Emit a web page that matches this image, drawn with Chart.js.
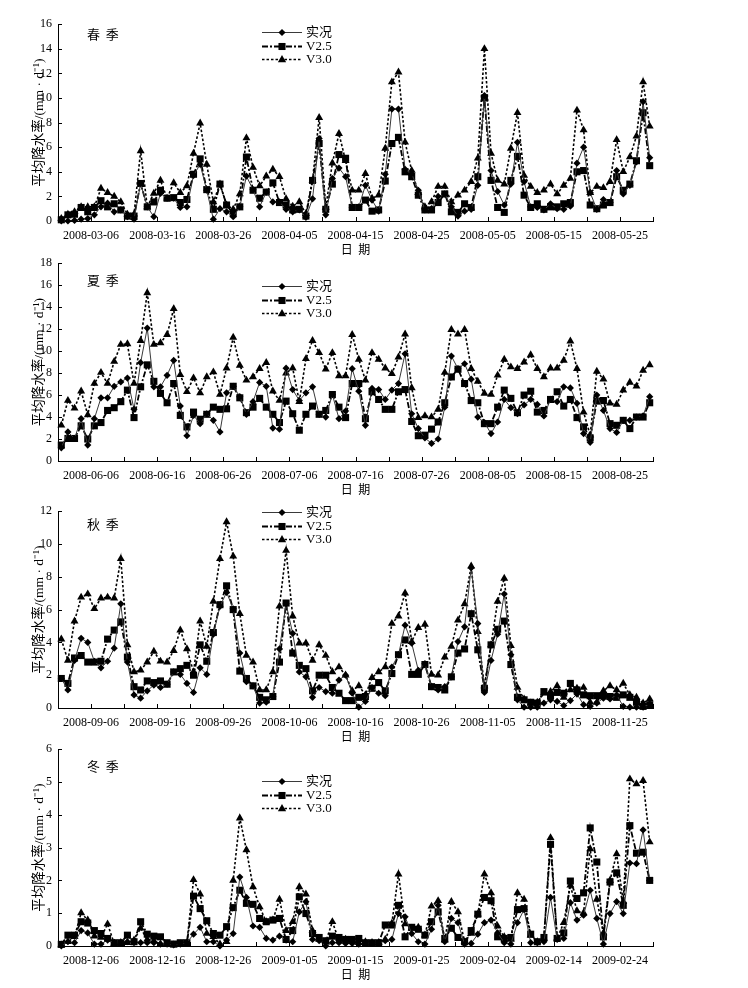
<!DOCTYPE html>
<html>
<head>
<meta charset="utf-8">
<script src="https://cdn.jsdelivr.net/npm/chart.js@4.4.1/dist/chart.umd.min.js"></script>
<style>
  html, body { margin: 0; padding: 0; background: #fff; }
  #wrap { position: relative; width: 748px; height: 988px; }
  #wrap canvas { position: absolute; left: 0; }
</style>
</head>
<body>
<div id="wrap"></div>
<script>
const seriesNames = ['实况', 'V2.5', 'V3.0']

// 春季 2008-03 ~ 2008-05
const springTicks = ['2008-03-06', '2008-03-16', '2008-03-26', '2008-04-05', '2008-04-15', '2008-04-25', '2008-05-05', '2008-05-15', '2008-05-25']
const springObs = [0, 0, 0.05, 0.15, 0.2, 0.5, 1.15, 1.45, 0.75, 0.9, 0.35, 0.15, 3.05, 1.15, 0.35, 2.25, 1.85, 1.85, 1.1, 1.15, 3.7, 4.6, 2.5, 0.15, 1.0, 0.75, 0.35, 1.15, 3.65, 2.55, 1.15, 2.35, 1.55, 1.55, 0.95, 0.75, 0.9, 0.3, 1.8, 6.7, 0.5, 3.45, 4.3, 3.6, 1.1, 1.15, 2.9, 1.7, 0.8, 3.8, 9.1, 9.1, 4.2, 3.85, 2.5, 0.9, 1.0, 2.0, 2.2, 1.15, 0.4, 0.8, 0.95, 2.9, 10.2, 4.1, 2.4, 1.3, 3.0, 6.4, 3.2, 1.15, 1.1, 0.9, 1.4, 1.0, 0.95, 1.2, 4.7, 6.0, 2.3, 0.95, 1.75, 1.5, 4.1, 2.2, 2.9, 4.8, 9.7, 5.15]
const springV25 = [0.1, 0.5, 0.55, 1.1, 0.75, 1.1, 1.65, 1.15, 1.4, 0.9, 0.4, 0.4, 3.05, 1.15, 1.55, 2.5, 1.85, 1.9, 1.5, 1.75, 3.8, 5.05, 2.55, 0.95, 3.0, 1.3, 0.6, 1.15, 5.2, 2.5, 1.85, 2.35, 3.1, 1.5, 1.3, 0.9, 0.95, 0.4, 3.3, 6.3, 0.95, 3.0, 5.4, 5.1, 1.1, 1.1, 1.7, 0.8, 0.9, 3.25, 6.3, 6.8, 4.0, 3.6, 2.1, 0.9, 0.9, 1.5, 2.2, 0.75, 0.7, 1.4, 1.1, 3.6, 10.0, 3.3, 1.1, 0.7, 3.3, 5.25, 2.1, 1.1, 1.4, 0.95, 1.15, 1.15, 1.4, 1.5, 4.0, 4.1, 1.3, 1.0, 1.3, 1.5, 3.6, 2.5, 3.0, 4.9, 8.8, 4.5]
const springV30 = [0.2, 0.55, 0.75, 1.15, 1.15, 1.15, 2.65, 2.3, 2.0, 1.55, 0.55, 0.55, 5.7, 1.15, 2.25, 3.3, 1.85, 3.1, 2.3, 2.85, 5.5, 7.95, 4.6, 1.55, 3.0, 1.3, 0.95, 2.2, 6.75, 4.35, 2.85, 3.65, 4.2, 3.6, 1.8, 1.2, 1.55, 0.6, 3.3, 8.4, 1.1, 4.7, 7.1, 4.9, 2.5, 2.5, 3.85, 1.85, 2.1, 5.9, 11.3, 12.1, 6.4, 4.1, 2.3, 1.15, 1.55, 2.8, 2.8, 1.55, 2.1, 2.5, 3.2, 5.1, 14.0, 5.5, 3.3, 3.0, 5.9, 8.8, 3.7, 2.8, 2.3, 2.5, 3.0, 2.2, 2.9, 3.45, 9.0, 7.4, 2.3, 2.8, 2.7, 3.2, 6.6, 4.0, 5.2, 6.9, 11.3, 7.7]

// 夏季 2008-06 ~ 2008-08
const summerTicks = ['2008-06-06', '2008-06-16', '2008-06-26', '2008-07-06', '2008-07-16', '2008-07-26', '2008-08-05', '2008-08-15', '2008-08-25']
const summerObs = [1.2, 2.65, 2.05, 3.85, 1.45, 3.85, 5.75, 5.75, 6.8, 7.2, 7.55, 4.7, 8.95, 12.1, 6.75, 6.75, 7.8, 9.15, 5.0, 2.3, 4.15, 3.4, 4.3, 3.7, 2.65, 6.2, 6.8, 5.85, 4.25, 5.4, 7.15, 6.8, 3.0, 2.9, 8.45, 6.5, 5.5, 6.2, 6.75, 4.25, 4.0, 6.05, 3.85, 4.55, 8.4, 6.35, 3.25, 6.6, 6.5, 5.6, 6.45, 7.05, 9.75, 4.3, 2.95, 2.1, 1.6, 2.0, 4.9, 9.55, 8.4, 8.85, 7.45, 4.0, 3.5, 2.5, 3.55, 5.6, 4.85, 4.3, 5.1, 5.6, 5.15, 4.1, 5.6, 5.4, 6.75, 6.65, 5.25, 2.5, 1.7, 6.0, 4.6, 2.95, 2.6, 3.7, 3.7, 4.0, 4.1, 5.85]
const summerV25 = [1.45, 2.05, 2.05, 3.2, 2.0, 3.2, 3.5, 4.6, 4.85, 5.4, 6.45, 3.95, 6.75, 8.75, 7.25, 6.15, 5.3, 7.05, 4.15, 3.1, 4.45, 3.8, 4.25, 4.9, 4.7, 4.75, 6.8, 5.75, 4.4, 4.9, 5.7, 4.9, 4.25, 3.5, 5.45, 4.3, 2.8, 4.25, 5.0, 4.25, 4.6, 6.05, 4.9, 3.95, 7.05, 7.05, 3.85, 6.3, 5.6, 4.7, 4.7, 6.3, 6.5, 3.6, 2.3, 2.35, 2.9, 3.55, 5.3, 7.65, 8.35, 7.05, 5.5, 5.3, 3.4, 3.4, 4.9, 6.45, 5.7, 4.4, 6.0, 6.35, 4.45, 4.6, 5.6, 6.3, 5.0, 5.6, 3.95, 3.1, 2.1, 5.45, 5.5, 3.4, 3.25, 3.7, 2.95, 4.0, 4.0, 5.3]
const summerV30 = [3.25, 5.5, 4.8, 6.35, 4.2, 7.05, 8.05, 7.05, 9.05, 10.6, 10.65, 7.05, 10.95, 15.3, 10.6, 10.75, 11.5, 13.85, 7.85, 6.3, 7.55, 6.2, 7.65, 8.1, 6.05, 8.45, 11.25, 8.7, 7.35, 7.65, 8.4, 8.95, 6.35, 5.5, 8.0, 8.45, 5.4, 9.3, 10.95, 9.85, 8.35, 9.85, 7.75, 7.75, 11.5, 9.25, 7.35, 9.85, 9.25, 8.45, 7.95, 9.45, 11.55, 6.65, 3.95, 4.1, 4.0, 4.7, 8.05, 11.95, 11.55, 11.95, 8.4, 7.25, 6.15, 6.05, 7.8, 9.25, 8.55, 8.4, 9.0, 9.65, 8.4, 7.65, 8.45, 8.45, 9.15, 10.9, 8.4, 4.45, 2.35, 8.15, 7.45, 5.25, 5.15, 6.45, 7.15, 6.8, 8.25, 8.75]

// 秋季 2008-09 ~ 2008-11
const autumnTicks = ['2008-09-06', '2008-09-16', '2008-09-26', '2008-10-06', '2008-10-16', '2008-10-26', '2008-11-05', '2008-11-15', '2008-11-25']
const autumnObs = [1.8, 1.1, 2.9, 4.25, 4.0, 2.85, 2.45, 2.85, 3.65, 6.35, 2.8, 0.8, 0.6, 1.05, 1.4, 1.25, 1.45, 2.2, 2.05, 1.5, 0.95, 2.45, 2.05, 4.5, 6.2, 7.05, 6.05, 3.35, 1.6, 1.35, 0.3, 0.35, 0.7, 3.6, 6.35, 4.55, 2.2, 1.9, 0.65, 1.25, 1.0, 0.9, 1.7, 2.0, 0.9, 0.05, 0.4, 1.25, 0.9, 0.75, 2.5, 3.25, 5.05, 3.95, 2.3, 2.7, 1.3, 1.1, 1.3, 1.9, 4.05, 4.95, 8.55, 5.15, 0.95, 2.9, 4.5, 6.95, 3.25, 0.5, 0.05, 0.05, 0.05, 0.3, 0.5, 0.4, 0.15, 0.45, 0.85, 0.2, 0.1, 0.3, 0.6, 0.55, 0.8, 0.1, 0.05, 0.05, 0.05, 0.25]
const autumnV25 = [1.8, 1.5, 3.05, 3.2, 2.8, 2.8, 2.85, 4.2, 4.75, 5.25, 3.1, 1.3, 1.1, 1.65, 1.55, 1.65, 1.45, 2.2, 2.4, 2.6, 2.0, 3.85, 2.85, 4.6, 6.3, 7.45, 6.0, 2.25, 1.8, 1.35, 0.65, 0.5, 0.7, 2.8, 6.4, 3.35, 2.6, 2.4, 1.05, 2.0, 2.0, 1.25, 0.9, 0.45, 0.45, 0.65, 0.7, 1.2, 1.55, 1.05, 2.1, 3.25, 4.15, 2.05, 2.05, 2.65, 1.3, 1.25, 1.1, 1.9, 3.35, 3.6, 5.75, 3.55, 1.2, 3.85, 4.8, 5.3, 2.65, 0.65, 0.5, 0.35, 0.3, 1.0, 0.75, 0.95, 0.9, 1.5, 1.1, 0.8, 0.75, 0.75, 0.75, 0.7, 0.65, 0.8, 0.65, 0.35, 0.1, 0.2]
const autumnV30 = [4.2, 2.9, 5.3, 6.75, 6.95, 6.05, 6.7, 6.75, 6.7, 9.1, 3.85, 2.2, 2.3, 2.8, 3.45, 2.85, 2.8, 3.5, 4.75, 3.6, 2.2, 5.3, 3.75, 6.5, 9.1, 11.35, 9.25, 5.75, 3.2, 2.8, 1.1, 1.1, 2.2, 6.2, 9.6, 5.6, 3.95, 3.95, 2.9, 3.85, 3.2, 2.2, 2.5, 2.0, 1.05, 1.35, 0.8, 1.85, 2.2, 2.5, 5.15, 5.6, 7.0, 4.05, 4.9, 5.1, 2.05, 2.0, 3.1, 3.75, 5.35, 6.35, 8.65, 4.65, 1.35, 3.85, 6.5, 7.9, 3.8, 1.25, 0.55, 0.3, 0.35, 0.9, 1.0, 1.35, 0.65, 1.1, 1.2, 1.25, 0.35, 0.35, 1.05, 1.35, 1.1, 1.5, 0.8, 0.65, 0.3, 0.55]

// 冬季 2008-12 ~ 2009-02
const winterTicks = ['2008-12-06', '2008-12-16', '2008-12-26', '2009-01-05', '2009-01-15', '2009-01-25', '2009-02-04', '2009-02-14', '2009-02-24']
const winterObs = [0, 0.13, 0.1, 0.47, 0.4, 0.06, 0.06, 0.18, 0.1, 0.1, 0.13, 0.1, 0.1, 0.1, 0.1, 0.06, 0.06, 0.03, 0.06, 0.1, 0.36, 0.57, 0.13, 0.13, 0, 0.18, 0.38, 2.1, 1.48, 0.61, 0.57, 0.23, 0.18, 0.3, 0.18, 0.13, 1.04, 1.35, 0.2, 0.16, 0, 0.1, 0.1, 0.08, 0.08, 0.06, 0.08, 0.08, 0.08, 0.16, 0.2, 0.99, 0.89, 0.38, 0.13, 0.06, 0.51, 1.24, 0.13, 0.84, 0.71, 0.06, 0.08, 0.36, 0.71, 0.79, 0.4, 0.1, 0.06, 0.71, 1.11, 0.1, 0.1, 0.13, 1.48, 0.2, 0.23, 1.32, 0.79, 0.94, 1.7, 0.84, 0.06, 0.99, 1.35, 0.99, 2.53, 2.51, 3.54, 2.0]
const winterV25 = [0.05, 0.33, 0.33, 0.74, 0.7, 0.47, 0.38, 0.23, 0.1, 0.1, 0.33, 0.13, 0.74, 0.36, 0.3, 0.28, 0.1, 0.06, 0.1, 0.1, 1.52, 1.14, 0.77, 0.38, 0.33, 0.59, 1.17, 1.7, 1.3, 1.27, 0.84, 0.74, 0.79, 0.84, 0.2, 0.47, 1.5, 0.99, 0.38, 0.26, 0.16, 0.3, 0.26, 0.2, 0.2, 0.23, 0.1, 0.1, 0.1, 0.64, 0.64, 1.24, 0.28, 0.57, 0.51, 0.33, 0.74, 1.04, 0.23, 0.54, 0.26, 0.13, 0.47, 0.97, 1.48, 1.38, 0.28, 0.23, 0.26, 1.11, 1.14, 0.36, 0.13, 0.26, 3.1, 0.23, 0.4, 1.98, 1.45, 1.62, 3.6, 2.56, 0.28, 1.95, 2.23, 1.24, 3.67, 2.83, 2.86, 2.0]
const winterV30 = [0.03, 0.13, 0.28, 1.01, 0.79, 0.3, 0.26, 0.67, 0.08, 0.1, 0.1, 0.18, 0.54, 0.2, 0.16, 0.06, 0.06, 0.03, 0.06, 0.1, 2.02, 1.58, 0.38, 0.28, 0.06, 0.13, 2.0, 3.9, 2.93, 1.8, 1.19, 0.74, 0.79, 1.42, 0.47, 0.74, 1.8, 1.58, 0.47, 0.2, 0.13, 0.74, 0.16, 0.2, 0.13, 0.1, 0.13, 0.1, 0.1, 0.2, 0.69, 2.19, 0.67, 0.54, 0.57, 0.33, 1.21, 1.38, 0.18, 1.35, 1.04, 0.13, 0.38, 0.97, 2.19, 1.62, 0.6, 0.28, 0.2, 1.62, 1.42, 0.33, 0.13, 0.23, 3.3, 0.23, 0.71, 1.85, 1.07, 1.01, 2.96, 1.42, 0.4, 2.0, 2.81, 1.35, 5.09, 4.94, 5.04, 3.17]

const serif = '"Liberation Serif", "Times New Roman", "Noto Sans CJK SC", serif'
const cjk = '"Noto Sans CJK SC", "Liberation Serif", serif'

// line look of each series, in the order of seriesNames
const styles = [
  { line: '#3a3a3a', width: 1, dash: [], point: 'rectRot', radius: 3.6 },
  { line: '#000', width: 1.8, dash: [6, 2, 2, 2], point: 'rect', radius: 5 },
  { line: '#000', width: 1.6, dash: [2.5, 2], point: 'triangle', radius: 4.6 }
]

const panels = [
  { name: '春  季', series: [springObs, springV25, springV30], ticks: springTicks, yMax: 16, step: 2, top: 23, h: 198, nameY: 10, legendY: 8 },
  { name: '夏  季', series: [summerObs, summerV25, summerV30], ticks: summerTicks, yMax: 18, step: 2, top: 262, h: 199, nameY: 17, legendY: 23 },
  { name: '秋  季', series: [autumnObs, autumnV25, autumnV30], ticks: autumnTicks, yMax: 12, step: 2, top: 510, h: 198, nameY: 13, legendY: 1 },
  { name: '冬  季', series: [winterObs, winterV25, winterV30], ticks: winterTicks, yMax: 6, step: 1, top: 748, h: 198, nameY: 17, legendY: 32 }
]

function marker (ctx, style, x, y, r) {
  ctx.beginPath()
  if (style === 'rectRot') {
    ctx.moveTo(x, y - r); ctx.lineTo(x + r, y); ctx.lineTo(x, y + r); ctx.lineTo(x - r, y)
  } else if (style === 'rect') {
    const s = r * Math.SQRT1_2
    ctx.rect(x - s, y - s, 2 * s, 2 * s)
  } else {
    const s = r * 0.9
    ctx.moveTo(x, y - r); ctx.lineTo(x + s, y + r * 0.6); ctx.lineTo(x - s, y + r * 0.6)
  }
  ctx.closePath()
  ctx.fill()
}

// inner tick marks, season name and legend
const decorations = {
  id: 'decorations',
  afterDraw (chart, args, opts) {
    const { ctx, chartArea: a, scales: { x, y } } = chart
    ctx.save()
    ctx.strokeStyle = '#000'
    ctx.lineWidth = 1
    ctx.beginPath()
    x.ticks.forEach(t => {
      const px = Math.round(x.getPixelForValue(t.value)) + 0.5
      ctx.moveTo(px, a.bottom); ctx.lineTo(px, a.bottom - 4)
    })
    y.ticks.forEach(t => {
      const py = Math.round(y.getPixelForValue(t.value)) + 0.5
      ctx.moveTo(a.left, py); ctx.lineTo(a.left + 4, py)
    })
    ctx.stroke()

    ctx.fillStyle = '#000'
    ctx.textBaseline = 'middle'
    ctx.font = '13px ' + cjk
    ctx.fillText(opts.name, 87, a.top + opts.nameY)

    chart.data.datasets.forEach((ds, i) => {
      const st = styles[i]
      const ly = Math.round(a.top + opts.legendY + i * 13.3) + 0.5
      ctx.save()
      ctx.strokeStyle = st.line
      ctx.lineWidth = st.width
      ctx.setLineDash(st.dash)
      ctx.beginPath(); ctx.moveTo(262, ly); ctx.lineTo(302, ly); ctx.stroke()
      ctx.restore()
      ctx.fillStyle = '#000'
      marker(ctx, st.point, 282, ly, st.radius)
      ctx.font = '13px ' + serif
      ctx.fillText(ds.label, 306, ly)
    })
    ctx.restore()
  }
}

const wrap = document.getElementById('wrap')

panels.forEach(p => {
  const canvas = document.createElement('canvas')
  canvas.width = 748
  canvas.height = p.h + 52
  canvas.style.top = (p.top - 12) + 'px'
  wrap.appendChild(canvas)

  new Chart(canvas.getContext('2d'), {
    type: 'line',
    data: {
      datasets: p.series.map((values, i) => ({
        label: seriesNames[i],
        data: values.map((v, k) => ({ x: k, y: v })),
        borderColor: styles[i].line,
        borderWidth: styles[i].width,
        borderDash: styles[i].dash,
        pointStyle: styles[i].point,
        pointRadius: styles[i].radius,
        pointBackgroundColor: '#000',
        pointBorderWidth: 0,
        tension: 0,
        fill: false,
        clip: false
      }))
    },
    options: {
      animation: false,
      responsive: false,
      events: [],
      layout: { padding: { top: 12, right: 95, bottom: 0, left: 0 } },
      plugins: {
        legend: { display: false },
        tooltip: { enabled: false },
        decorations: { name: p.name, nameY: p.nameY, legendY: p.legendY }
      },
      scales: {
        x: {
          type: 'linear',
          min: -0.5,
          max: 89.5,
          afterFit: s => { s.height = 40 },
          grid: { display: false, drawTicks: false },
          border: { display: true, color: '#000', width: 1 },
          ticks: {
            stepSize: 5,
            autoSkip: false,
            maxRotation: 0,
            padding: 8,
            color: '#000',
            font: { family: serif, size: 12 },
            callback: (v, i) => (i % 2 === 1 ? p.ticks[(i - 1) / 2] : '')
          },
          title: { display: true, text: '日  期', color: '#000', font: { family: cjk, size: 12, lineHeight: 1.2 }, padding: { top: 0, bottom: 4 } }
        },
        y: {
          min: 0,
          max: p.yMax,
          afterFit: s => { s.width = 58 },
          grid: { display: false, drawTicks: false },
          border: { display: true, color: '#000', width: 1 },
          ticks: { stepSize: p.step, padding: 6, color: '#000', font: { family: serif, size: 12 } },
          title: { display: true, text: '平均降水率/(mm · d⁻¹)', color: '#000', font: { family: serif, size: 13.5, lineHeight: 1.2 }, padding: { top: 31, bottom: 0 } }
        }
      }
    },
    plugins: [decorations]
  })
})
</script>
</body>
</html>
